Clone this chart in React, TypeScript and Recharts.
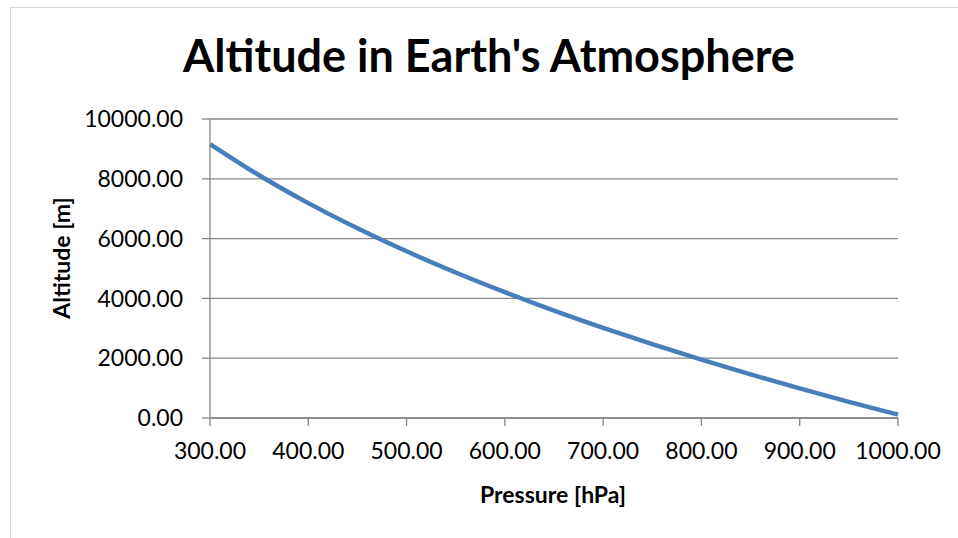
import { LineChart, Line, XAxis, YAxis, CartesianGrid } from "recharts";

// pressure [hPa] and altitude [m]
const pressure = [300, 350, 400, 450, 500, 550, 600, 650, 700, 750, 800, 850, 900, 950, 1000];
const altitude = [9163, 8118, 7186, 6345, 5575, 4866, 4208, 3591, 3013, 2467, 1949, 1458, 989, 540, 111];

const xTicks = [300, 400, 500, 600, 700, 800, 900, 1000];
const yTicks = [0, 2000, 4000, 6000, 8000, 10000];

const data = pressure.map((p, i) => ({ p, h: altitude[i] }));

const FONT = "Lato, 'Open Sans', sans-serif";
const GRID = "#878787";

const App = () => {
  return (
    <div style={{ position: "absolute", left: 0, top: 0, width: 958, height: 538, background: "#fff", overflow: "hidden", fontFamily: FONT }}>
      <div style={{ position: "absolute", left: 10, top: 7, width: 980, height: 560, border: "1px solid #d9d9d9" }} />
      <div
        style={{
          position: "absolute",
          left: 0,
          top: 26,
          width: 978,
          textAlign: "center",
          fontSize: 45,
          fontWeight: 700,
          lineHeight: "58px",
          color: "#000",
        }}
      >
        Altitude in Earth's Atmosphere
      </div>
      <div
        style={{
          position: "absolute",
          left: 61 - 100,
          top: 258 - 15,
          width: 200,
          height: 30,
          lineHeight: "30px",
          textAlign: "center",
          fontSize: 23,
          fontWeight: 700,
          transform: "rotate(-90deg)",
        }}
      >
        Altitude [m]
      </div>
      <div
        style={{
          position: "absolute",
          left: 553 - 150,
          top: 479,
          width: 300,
          lineHeight: "30px",
          textAlign: "center",
          fontSize: 23,
          fontWeight: 700,
        }}
      >
        Pressure [hPa]
      </div>
      <div style={{ position: "absolute", left: 0, top: 0 }}>
        <LineChart width={958} height={538} data={data} margin={{ top: 119, right: 60, bottom: 0, left: 110 }}>
          <CartesianGrid vertical={false} stroke={GRID} strokeWidth={1.3} />
          <XAxis
            dataKey="p"
            type="number"
            domain={[300, 1000]}
            ticks={xTicks}
            tickFormatter={(v: number) => v.toFixed(2)}
            height={120}
            stroke={GRID}
            strokeWidth={1.3}
            tickSize={8}
            tickMargin={17}
            tick={{ fill: "#000", fontSize: 23, fontFamily: FONT }}
            interval={0}
          />
          <YAxis
            dataKey="h"
            type="number"
            domain={[0, 10000]}
            ticks={yTicks}
            tickFormatter={(v: number) => v.toFixed(2)}
            width={100}
            stroke={GRID}
            strokeWidth={1.3}
            tickSize={8}
            tickMargin={19}
            tick={{ fill: "#000", fontSize: 23, fontFamily: FONT }}
            interval={0}
          />
          <Line
            type="monotone"
            dataKey="h"
            stroke="#4a7ebb"
            strokeWidth={4.5}
            dot={false}
            isAnimationActive={false}
          />
        </LineChart>
      </div>
    </div>
  );
};

export default App;
